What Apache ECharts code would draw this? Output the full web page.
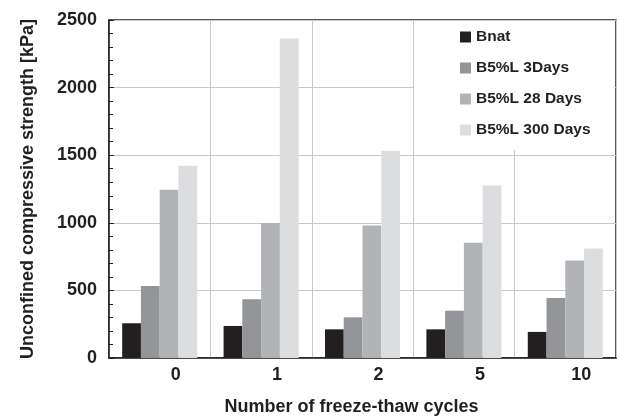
<!DOCTYPE html>
<html>
<head>
<meta charset="utf-8">
<script src="https://cdn.jsdelivr.net/npm/echarts@6/dist/echarts.min.js"></script>
<style>
  html, body { margin: 0; padding: 0; background: #fff; }
  #chart { width: 619px; height: 416px; }
</style>
</head>
<body>
<div id="chart"></div>
<script>
const categories = ["0", "1", "2", "5", "10"]
const seriesNames = ["Bnat", "B5%L 3Days", "B5%L 28 Days", "B5%L 300 Days"]
const bnat = [257, 237, 212, 212, 193]
const days3 = [533, 435, 301, 350, 444]
const days28 = [1244, 998, 980, 852, 721]
const days300 = [1422, 2363, 1533, 1276, 810]
const colors = ["#231f20", "#939598", "#b1b3b6", "#dcdddf"]

const font = "'Liberation Sans', Arial, sans-serif"
const chart = echarts.init(document.getElementById("chart"))

const option = {
  animation: false,
  textStyle: { fontFamily: font, color: "#231f20" },
  grid: {
    left: 109, right: 3, top: 20, bottom: 58,
    outerBoundsMode: "none",
    containLabel: false,
    show: true, borderColor: "#231f20", borderWidth: 1.5,
  },
  legend: {
    orient: "vertical",
    left: 414, top: 21,
    padding: [8, 24, 12, 46],
    backgroundColor: "#fff",
    icon: "rect",
    itemWidth: 11, itemHeight: 11,
    itemGap: 15,
    textStyle: { fontSize: 15.5, fontWeight: "bold", lineHeight: 16, color: "#231f20", fontFamily: font },
    data: seriesNames,
  },
  xAxis: [
    {
      type: "category",
      data: categories,
      name: "Number of freeze-thaw cycles",
      nameLocation: "middle",
      nameGap: 40,
      nameMoveOverlap: false,
      nameTextStyle: { fontSize: 18, fontWeight: "bold", color: "#231f20", padding: [0, 22, 0, 0] },
      axisLine: { lineStyle: { color: "#231f20", width: 1.5 } },
      axisTick: { inside: true, length: 4, lineStyle: { color: "#231f20" } },
      axisLabel: { fontSize: 18, fontWeight: "bold", color: "#231f20", margin: 8, padding: [0, 0, 0, 32] },
      splitLine: { show: true, lineStyle: { color: "#c8c8c8", width: 1 } },
    },
    {
      type: "category",
      data: categories,
      position: "bottom",
      axisLine: { show: false },
      axisTick: { inside: true, alignWithLabel: true, length: 4, lineStyle: { color: "#231f20" } },
      axisLabel: { show: false },
      splitLine: { show: false },
    },
  ],
  yAxis: {
    type: "value",
    min: 0, max: 2500, interval: 500,
    name: "Unconfined compressive strength [kPa]",
    nameLocation: "middle",
    nameGap: 72,
    nameMoveOverlap: false,
    nameTextStyle: { fontSize: 18, fontWeight: "bold", color: "#231f20" },
    axisLine: { show: true, lineStyle: { color: "#231f20", width: 1.5 } },
    axisTick: { show: true, inside: true, length: 5, lineStyle: { color: "#231f20" } },
    minorTick: { show: true, splitNumber: 5, length: 4, lineStyle: { color: "#231f20" } },
    axisLabel: { fontSize: 18, fontWeight: "bold", color: "#231f20", margin: 12, formatter: (v) => String(v) },
    splitLine: { show: true, lineStyle: { color: "#c8c8c8", width: 1 } },
  },
  series: [bnat, days3, days28, days300].map((d, i) => ({
    name: seriesNames[i],
    type: "bar",
    data: d,
    barGap: "0%",
    barCategoryGap: "26%",
    itemStyle: { color: colors[i] },
  })),
}

chart.setOption(option)
</script>
</body>
</html>
